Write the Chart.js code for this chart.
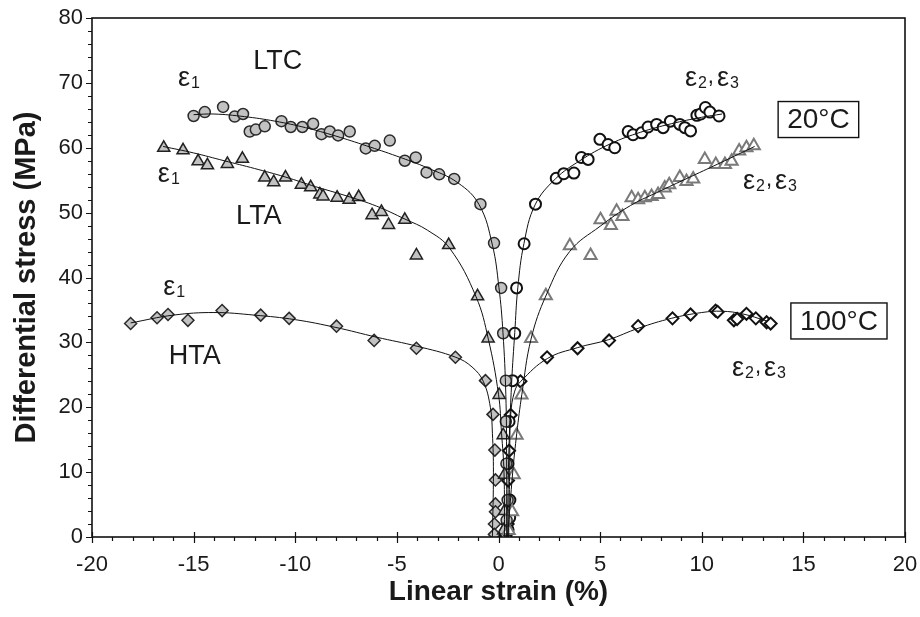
<!DOCTYPE html>
<html>
<head>
<meta charset="utf-8">
<script src="https://cdn.jsdelivr.net/npm/chart.js@4.4.1/dist/chart.umd.min.js"></script>
<style>
  html, body { margin: 0; background: #fff; }
</style>
</head>
<body>
<canvas id="chart" width="920" height="617"></canvas>
<script>
// Stress–strain branches, [strain %, differential stress MPa]
const ltcAxial = [[-15.0,64.9],[-14.45,65.5],[-13.55,66.3],[-12.98,64.8],[-12.57,65.2],[-12.24,62.5],[-11.94,62.8],[-11.5,63.3],[-10.68,64.1],[-10.22,63.2],[-9.65,63.2],[-9.12,63.7],[-8.71,62.1],[-8.3,62.5],[-7.89,61.9],[-7.32,62.5],[-6.53,59.9],[-6.09,60.3],[-5.35,61.1],[-4.61,58.0],[-4.07,58.5],[-3.54,56.2],[-2.92,55.9],[-2.18,55.2],[-0.89,51.3],[-0.22,45.3],[0.13,38.4],[0.23,31.4],[0.36,24.1],[0.36,17.8],[0.39,11.3],[0.45,5.7],[0.4,2.6],[0.38,1.0]];
const ltcLateral = [[0.38,0.4],[0.47,1.1],[0.55,3.0],[0.56,5.7],[0.47,11.3],[0.52,17.8],[0.69,24.1],[0.8,31.4],[0.89,38.4],[1.26,45.2],[1.82,51.3],[2.84,55.3],[3.21,56.0],[3.71,56.1],[4.08,58.5],[4.41,58.2],[4.99,61.3],[5.39,60.5],[5.72,60.0],[6.38,62.5],[6.62,62.0],[7.04,62.3],[7.36,63.2],[7.78,63.6],[8.1,63.1],[8.46,64.1],[8.92,63.6],[9.17,63.1],[9.45,62.6],[9.76,65.0],[9.95,65.2],[10.18,66.2],[10.4,65.5],[10.85,64.9]];
const ltaAxial = [[-16.47,60.0],[-15.52,59.6],[-14.78,57.9],[-14.32,57.3],[-13.34,57.5],[-12.6,58.3],[-11.5,55.4],[-11.06,54.7],[-10.48,55.4],[-9.7,54.3],[-9.24,53.9],[-8.79,52.8],[-8.63,52.5],[-7.94,52.3],[-7.35,52.0],[-6.88,52.4],[-6.22,49.6],[-5.76,50.1],[-5.41,48.1],[-4.61,48.9],[-4.04,43.4],[-2.45,45.0],[-1.03,37.1],[-0.51,30.6],[0.03,21.9],[0.23,15.7],[0.3,9.6],[0.3,4.0],[0.25,1.0]];
const ltaLateral = [[0.5,1.0],[0.67,3.9],[0.75,9.6],[0.89,15.7],[1.13,21.9],[1.6,30.6],[2.33,37.2],[3.51,44.9],[4.53,43.4],[5.02,48.9],[5.53,48.0],[5.81,50.2],[6.1,49.4],[6.55,52.3],[6.87,52.0],[7.2,52.3],[7.53,52.5],[7.85,52.8],[8.18,53.8],[8.4,54.3],[8.92,55.4],[9.25,54.8],[9.58,55.2],[10.15,58.2],[10.69,57.4],[11.14,57.4],[11.47,57.9],[11.84,59.5],[12.2,60.0],[12.56,60.3]];
const htaAxial = [[-18.1,32.9],[-16.8,33.8],[-16.26,34.3],[-15.28,33.4],[-13.6,34.9],[-11.7,34.2],[-10.3,33.7],[-7.97,32.5],[-6.12,30.3],[-4.04,29.1],[-2.12,27.7],[-0.64,24.1],[-0.27,18.9],[-0.18,13.4],[-0.15,8.8],[-0.15,5.1],[-0.15,3.9],[-0.2,2.0],[-0.2,0.4]];
const htaLateral = [[0.3,0.3],[0.45,2.0],[0.5,3.9],[0.47,8.7],[0.52,13.3],[0.6,18.8],[1.08,24.0],[2.39,27.7],[3.89,29.1],[5.44,30.3],[6.87,32.5],[8.56,33.7],[9.45,34.3],[10.68,34.9],[10.78,34.7],[11.58,33.4],[11.74,33.6],[12.2,34.4],[12.66,33.7],[13.19,33.1],[13.39,32.9]];

// Fitted trend curves through each branch
const ltcAxialFit = [[0.4,0],[0.4,12],[0.36,22],[0.22,31.5],[0.02,38.5],[-0.3,45],[-0.95,51.2],[-2,54.6],[-3.5,56.9],[-5,58.7],[-6.5,60.3],[-8,61.8],[-9.5,63.1],[-11,64.1],[-12.5,64.8],[-14,65.2],[-15,65.1]];
const ltcLateralFit = [[0.45,0],[0.5,12],[0.65,24],[0.8,31.5],[0.95,38.4],[1.25,45.2],[1.8,51.2],[2.8,55.2],[4,58],[5.5,60.6],[7,62.4],[8.5,63.7],[10,64.7],[11,65.2]];
const ltaAxialFit = [[0.3,0],[0.27,10],[0.15,16],[0,22],[-0.5,30.5],[-1.1,37],[-2.4,44.5],[-3.5,47.3],[-4.6,49],[-6,51],[-7.5,52.6],[-9,54],[-10.5,55.5],[-12,56.8],[-13.5,58],[-15,59.2],[-16.5,60.2]];
const ltaLateralFit = [[0.45,0],[0.7,10],[0.9,16],[1.15,22],[1.6,30.5],[2.35,37.3],[3.5,44],[5,47.9],[6.5,51.1],[8,53.4],[9.5,55.6],[11,57.8],[12.6,60.2]];
const htaAxialFit = [[-0.3,0],[-0.25,10],[-0.3,16],[-0.4,20],[-0.75,24],[-1.3,26.2],[-2.1,27.7],[-4,29.4],[-6,30.8],[-8,32.3],[-10,33.5],[-12,34.2],[-14,34.6],[-16,34.2],[-18.1,33]];
const htaLateralFit = [[0.5,0],[0.55,10],[0.6,18.8],[0.8,22.5],[1.1,24],[2.4,27.5],[3.9,29.2],[5.4,30.4],[6.9,32.2],[8.5,33.7],[10,34.6],[11,34.8],[12,34.4],[13.2,33.3]];

// Axis ranges and tick labels
const xTicks = [-20, -15, -10, -5, 0, 5, 10, 15, 20];
const yTicks = [0, 10, 20, 30, 40, 50, 60, 70, 80];

// Text placed in data coordinates
const testLabels = [
  { text: 'LTC', x: -10.86, y: 73.3 },
  { text: 'LTA', x: -11.79, y: 49.4 },
  { text: 'HTA', x: -14.94, y: 27.8 },
];
const strainLabels = [
  { subs: ['1'], x: -15.77, y: 70.4 },
  { subs: ['1'], x: -16.76, y: 55.7 },
  { subs: ['1'], x: -16.5, y: 38.3 },
  { subs: ['2', '3'], x: 9.17, y: 70.5 },
  { subs: ['2', '3'], x: 12.03, y: 54.6 },
  { subs: ['2', '3'], x: 11.49, y: 25.8 },
];
const tempLabels = [
  { text: '20°C', x: 15.74, y: 64.35 },
  { text: '100°C', x: 16.75, y: 33.3 },
];

const FONT = "'Liberation Sans', Arial, sans-serif";
const GRAY = '#c2c2c2';

const toXY = pts => pts.map(([x, y]) => ({ x, y }));

function markers(pts, style, fill, stroke, r, bw) {
  return {
    data: toXY(pts), showLine: false, order: 2,
    pointStyle: style, pointRadius: r, pointHoverRadius: r,
    backgroundColor: fill, borderColor: stroke, borderWidth: bw,
  };
}
function fit(pts) {
  return {
    data: toXY(pts), showLine: true, order: 1, tension: 0.4,
    pointRadius: 0, borderColor: '#111', borderWidth: 1, fill: false,
  };
}

function drawStrain(ctx, lbl, px, py) {
  let cx = px;
  lbl.subs.forEach((s, i) => {
    if (i > 0) {
      ctx.font = '22px ' + FONT;
      ctx.fillText(',', cx + 1, py - 3);
      cx += ctx.measureText(',').width + 4;
    }
    ctx.font = '27px ' + FONT;
    ctx.fillText('ε', cx, py);
    cx += ctx.measureText('ε').width + 1;
    ctx.font = '16px ' + FONT;
    ctx.fillText(s, cx, py + 2);
    cx += ctx.measureText(s).width;
  });
}

const framePlugin = {
  id: 'frame',
  afterDraw(chart) {
    const { ctx, chartArea: a, scales: { x, y } } = chart;
    ctx.save();
    ctx.strokeStyle = '#111';
    ctx.lineWidth = 1.6;
    ctx.strokeRect(a.left, a.top, a.right - a.left, a.bottom - a.top);

    // major ticks cross the bottom axis, minor ones hang below it
    ctx.lineWidth = 1.2;
    ctx.beginPath();
    for (let v = xTicks[0]; v <= xTicks[xTicks.length - 1]; v++) {
      const px = Math.round(x.getPixelForValue(v)) + 0.5;
      const major = v % 5 === 0;
      ctx.moveTo(px, a.bottom - (major ? 5 : 0));
      ctx.lineTo(px, a.bottom + (major ? 6 : 4));
    }
    for (let v = yTicks[0]; v <= yTicks[yTicks.length - 1]; v += 2) {
      const py = Math.round(y.getPixelForValue(v)) + 0.5;
      const major = v % 10 === 0;
      ctx.moveTo(a.left, py);
      ctx.lineTo(a.left - (major ? 6 : 4), py);
    }
    ctx.stroke();

    ctx.fillStyle = '#1a1a1a';
    ctx.textBaseline = 'middle';
    ctx.textAlign = 'center';
    ctx.font = '27px ' + FONT;
    testLabels.forEach(l => ctx.fillText(l.text, x.getPixelForValue(l.x), y.getPixelForValue(l.y)));

    ctx.font = '28px ' + FONT;
    ctx.lineWidth = 1.4;
    tempLabels.forEach(l => {
      const cx = x.getPixelForValue(l.x), cy = y.getPixelForValue(l.y);
      const w = ctx.measureText(l.text).width + 18, h = 36;
      ctx.fillStyle = '#fff';
      ctx.fillRect(cx - w / 2, cy - h / 2, w, h);
      ctx.strokeRect(cx - w / 2, cy - h / 2, w, h);
      ctx.fillStyle = '#1a1a1a';
      ctx.fillText(l.text, cx, cy + 1);
    });

    ctx.textAlign = 'left';
    ctx.textBaseline = 'alphabetic';
    strainLabels.forEach(l => drawStrain(ctx, l, x.getPixelForValue(l.x), y.getPixelForValue(l.y) + 6));
    ctx.restore();
  }
};

new Chart(document.getElementById('chart'), {
  type: 'scatter',
  data: {
    datasets: [
      fit(ltcAxialFit), fit(ltcLateralFit), fit(ltaAxialFit),
      fit(ltaLateralFit), fit(htaAxialFit), fit(htaLateralFit),
      markers(ltaLateral, 'triangle', '#fff', '#7a7a7a', 7, 2),
      markers(ltaAxial, 'triangle', GRAY, '#222', 7, 1.5),
      markers(ltcAxial, 'circle', GRAY, '#2a2a2a', 5.5, 1.5),
      markers(ltcLateral, 'circle', '#fff', '#111', 5.5, 2),
      markers(htaAxial, 'rectRot', GRAY, '#2a2a2a', 6, 1.5),
      markers(htaLateral, 'rectRot', '#fff', '#111', 6, 2),
    ]
  },
  options: {
    responsive: false,
    animation: false,
    events: [],
    layout: { padding: { top: 18, right: 15, left: 0, bottom: 0 } },
    plugins: { legend: { display: false }, tooltip: { enabled: false } },
    scales: {
      x: {
        type: 'linear', min: -20, max: 20,
        afterFit: s => { s.height = 80; s.paddingLeft = 0; s.paddingRight = 0; },
        afterBuildTicks: s => { s.ticks = xTicks.map(value => ({ value })); },
        grid: { display: false, drawTicks: false },
        border: { display: false },
        ticks: { padding: 15, color: '#1a1a1a', font: { family: FONT, size: 22 } },
        title: {
          display: true, text: 'Linear strain (%)', color: '#1a1a1a',
          font: { family: FONT, size: 28, weight: 'bold' }, padding: { bottom: 8 }
        }
      },
      y: {
        type: 'linear', min: 0, max: 80,
        afterFit: s => { s.width = 92; s.paddingTop = 0; s.paddingBottom = 0; },
        afterBuildTicks: s => { s.ticks = yTicks.map(value => ({ value })); },
        grid: { display: false, drawTicks: false },
        border: { display: false },
        ticks: { padding: 9, color: '#1a1a1a', font: { family: FONT, size: 22 } },
        title: {
          display: true, text: 'Differential stress (MPa)', color: '#1a1a1a',
          font: { family: FONT, size: 29, weight: 'bold' }, padding: { top: 10 }
        }
      }
    }
  },
  plugins: [framePlugin]
});
</script>
</body>
</html>
